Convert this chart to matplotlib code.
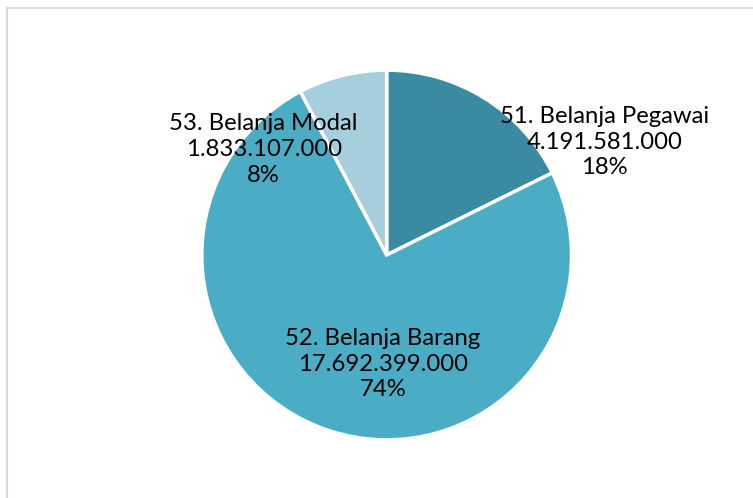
import matplotlib.pyplot as plt
from matplotlib.patches import Rectangle

categories = ["51. Belanja Pegawai", "52. Belanja Barang", "53. Belanja Modal"]
values = [4191581000, 17692399000, 1833107000]
percents = [18, 74, 8]
colors = ["#3A8AA2", "#4BACC6", "#A7CEDC"]


def fmt_id(v):
    # format angka gaya Indonesia: titik sebagai pemisah ribuan
    return f"{v:,}".replace(",", ".")


fig = plt.figure(figsize=(7.53, 4.98), dpi=100)
ax = fig.add_axes([0.268, 0.1165, 0.491, 0.743])

ax.pie(values, colors=colors, startangle=90, counterclock=False,
       wedgeprops=dict(edgecolor="white", linewidth=2.5))
ax.set_xlim(-1, 1)
ax.set_ylim(-1, 1)
ax.set_aspect("equal")

label_pos = [(1.18, 0.61), (-0.02, -0.59), (-0.665, 0.57)]
for name, v, pct, (x, y) in zip(categories, values, percents, label_pos):
    ax.text(x, y, f"{name}\n{fmt_id(v)}\n{pct}%", ha="center", va="center",
            fontsize=17.2, family="Lato", linespacing=1.28, color="black")

fig.add_artist(Rectangle((7 / 753, -0.1), 1.2, 1.1 - 8 / 498, transform=fig.transFigure,
                         fill=False, edgecolor="#D9D9D9", linewidth=1.5))

fig.savefig("out.png", dpi=100)
